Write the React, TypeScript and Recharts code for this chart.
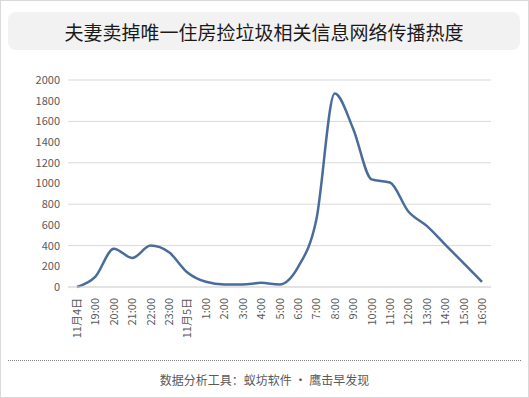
import React from "react";
import { LineChart, Line, XAxis, YAxis, CartesianGrid } from "recharts";

// hourly heat, 11/4 18:00 → 11/5 16:00
const hours = [
  "11月4日", "19:00", "20:00", "21:00", "22:00", "23:00",
  "11月5日", "1:00", "2:00", "3:00", "4:00", "5:00", "6:00", "7:00", "8:00",
  "9:00", "10:00", "11:00", "12:00", "13:00", "14:00", "15:00", "16:00",
];
const heat = [
  0, 100, 370, 280, 400, 335,
  140, 50, 25, 25, 40, 25, 190, 650, 1870,
  1530, 1040, 1010, 730, 590, 410, 230, 50,
];
const yTicks = [0, 200, 400, 600, 800, 1000, 1200, 1400, 1600, 1800, 2000];

const FONT = '"Noto Sans CJK SC", "Noto Sans", sans-serif';

const data = hours.map((h, i) => ({ h, v: heat[i] }));

function HourTick({ x, y, payload }: any) {
  return (
    <g transform={`translate(${x},${y})`}>
      <text
        transform="rotate(-90)"
        x={-3}
        y={0}
        dy={4}
        textAnchor="end"
        fontSize={11}
        fill="#595959"
        fontFamily={FONT}
      >
        {payload.value}
      </text>
    </g>
  );
}

export default function App() {
  return (
    <div
      style={{
        position: "relative",
        width: 529,
        height: 398,
        boxSizing: "border-box",
        border: "1px solid #d9d9d9",
        background: "#fff",
        fontFamily: FONT,
      }}
    >
      <style>{`body{margin:0}`}</style>
      {/* title */}
      <div
        style={{
          position: "absolute",
          left: 7,
          top: 11,
          width: 512,
          height: 38,
          borderRadius: 8,
          background: "#f2f2f2",
          display: "flex",
          alignItems: "center",
          justifyContent: "center",
          fontSize: 19,
          color: "#1a1a1a",
        }}
      >
        夫妻卖掉唯一住房捡垃圾相关信息网络传播热度
      </div>

      <div style={{ position: "absolute", left: -1, top: -1 }}>
        <LineChart
          width={529}
          height={345}
          data={data}
          margin={{ top: 80, right: 38, bottom: 0, left: 8 }}
        >
          <CartesianGrid vertical={false} stroke="#d9d9d9" />
          <XAxis
            dataKey="h"
            interval={0}
            height={58}
            padding={{ left: 9, right: 9 }}
            tickLine={false}
            stroke="#d9d9d9"
            tick={<HourTick />}
          />
          <YAxis
            width={60}
            domain={[0, 2000]}
            ticks={yTicks}
            axisLine={false}
            tickLine={false}
            tick={{ fontSize: 11, fill: "#595959", fontFamily: FONT }}
          />
          <Line
            type="monotone"
            dataKey="v"
            stroke="#4a6c9b"
            strokeWidth={2.5}
            dot={false}
            isAnimationActive={false}
          />
        </LineChart>
      </div>

      {/* footer */}
      <div
        style={{
          position: "absolute",
          left: 7,
          top: 359,
          width: 513,
          borderTop: "1px dotted #7f7f7f",
        }}
      />
      <div
        style={{
          position: "absolute",
          left: 0,
          top: 370,
          width: 527,
          textAlign: "center",
          fontSize: 12,
          color: "#595959",
        }}
      >
        数据分析工具：蚁坊软件 · 鹰击早发现
      </div>
    </div>
  );
}
